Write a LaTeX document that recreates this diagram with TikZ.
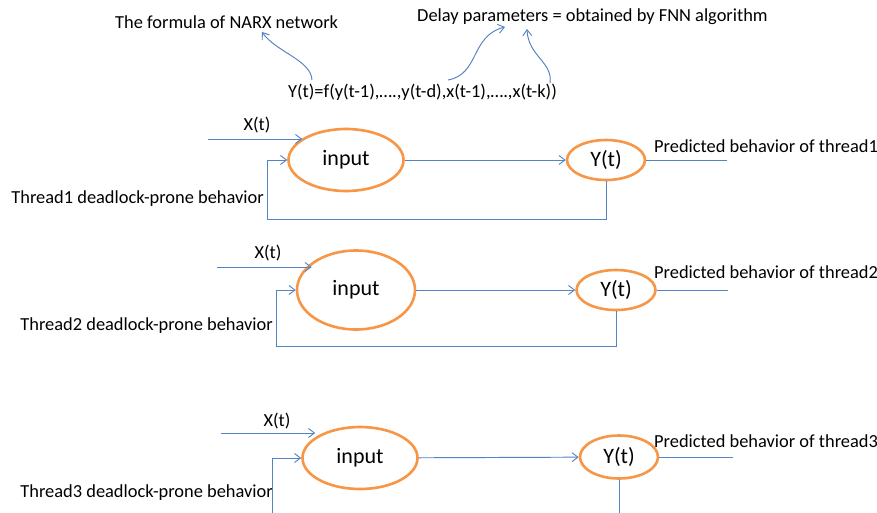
\documentclass[tikz,border=0pt]{standalone}
\usepackage{fontspec}
\setmainfont{Carlito}
\usetikzlibrary{shapes.geometric,arrows.meta}
\definecolor{lnblue}{HTML}{5283C2}
\definecolor{ovorange}{HTML}{F79646}
\tikzset{
  oval/.style={ellipse,draw=ovorange,line width=2.6pt,inner sep=0pt,font=\fontsize{22}{24}\selectfont},
  lbl/.style={inner sep=0pt,font=\fontsize{18.4}{20}\selectfont,text=black},
  ln/.style={draw=lnblue,line width=0.95pt},
  arr/.style={ln,-{Straight Barb[length=6pt,width=9pt,line width=0.9pt]}},
}
\begin{document}
\begin{tikzpicture}[x=1pt,y=-1pt]
\useasboundingbox (0,0) rectangle (877,512);
\fill[white] (0,0) rectangle (877,512);

% ---------- top ----------
\node[lbl,anchor=west] (narx) at (115,22) {The formula of NARX network};
\node[lbl,anchor=west] (delay) at (417,17) {Delay parameters = obtained by FNN algorithm};
\node[lbl,anchor=west] (formula) at (288,92) {Y(t)=f(y(t-1),….,y(t-d),x(t-1),….,x(t-k))};
\coordinate (a1s) at (312,80);
\coordinate (a1e) at (262,32);
\coordinate (a2s) at (448,80);
\coordinate (a2e) at (505,27);
\coordinate (a3s) at (550,83);
\coordinate (a3e) at (527,29);
\draw[arr] (a1s) .. controls (311,60) and (276,52) .. (a1e);
\draw[arr] (a2s) .. controls (480,74) and (470,36) .. (a2e);
\draw[arr] (a3s) .. controls (553,62) and (528,56) .. (a3e);

% ---------- thread 1 ----------
\node[oval,minimum width=115pt,minimum height=62pt] (in1) at (346,160) {input};
\node[oval,minimum width=78pt,minimum height=40pt] (out1) at (606,160) {Y(t)};
\node[lbl] (x1) at (257,125) {X(t)};
\node[lbl,anchor=east] (t1) at (264,199) {Thread1 deadlock-prone behavior};
\node[lbl,anchor=west] (p1) at (654,146) {Predicted behavior of thread1};
\coordinate (xs1) at (208,139);
\coordinate (fb1) at (267,219);
\coordinate (o1) at (727,160);
\draw[arr] (xs1) -- ([xshift=15pt]xs1 -| in1.west);
\draw[arr] (in1) -- (out1);
\draw[ln] (out1.east) -- (o1);
\draw[arr] (out1.south) |- (fb1) |- (in1.west);

% ---------- thread 2 ----------
\node[oval,minimum width=118pt,minimum height=79pt] (in2) at (356,290) {input};
\node[oval,minimum width=79pt,minimum height=40pt] (out2) at (616,290) {Y(t)};
\node[lbl] (x2) at (268,253) {X(t)};
\node[lbl,anchor=east] (t2) at (273,326) {Thread2 deadlock-prone behavior};
\node[lbl,anchor=west] (p2) at (654,272) {Predicted behavior of thread2};
\coordinate (xs2) at (217,267);
\coordinate (fb2) at (276,346);
\coordinate (o2) at (728,290);
\draw[arr] (xs2) -- ([xshift=16pt]xs2 -| in2.west);
\draw[arr] (in2) -- (out2);
\draw[ln] (out2.east) -- (o2);
\draw[arr] (out2.south) |- (fb2) |- (in2.west);

% ---------- thread 3 ----------
\node[oval,minimum width=115pt,minimum height=62pt] (in3) at (360,458) {input};
\node[oval,minimum width=78pt,minimum height=43pt] (out3) at (619,457) {Y(t)};
\node[lbl] (x3) at (277,421) {X(t)};
\node[lbl,anchor=east] (t3) at (273,493) {Thread3 deadlock-prone behavior};
\node[lbl,anchor=west] (p3) at (654,441) {Predicted behavior of thread3};
\coordinate (xs3) at (221,433);
\coordinate (fb3) at (272,514);
\coordinate (ob3) at (619,514);
\coordinate (o3) at (733,457);
\draw[arr] (xs3) -- ([xshift=14pt]xs3 -| in3.west);
\draw[arr] (in3) -- (out3);
\draw[ln] (out3.east) -- (o3);
\draw[ln] (out3.south) -- (ob3);
\draw[arr] (fb3) |- (in3.west);
\end{tikzpicture}
\end{document}
